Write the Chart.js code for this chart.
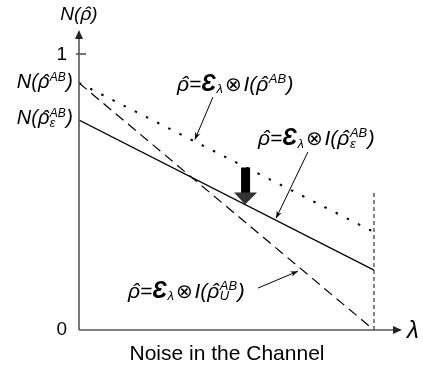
<!DOCTYPE html>
<html>
<head>
<meta charset="utf-8">
<script src="https://cdn.jsdelivr.net/npm/chart.js@4/dist/chart.umd.min.js"></script>
<style>
  html, body { margin: 0; padding: 0; background: #fff; }
  #wrap { width: 423px; height: 368px; }
</style>
</head>
<body>
<div id="wrap"><canvas id="chart" width="423" height="368"></canvas></div>
<script>
// noise level (x) and negativity N for each state
const lambda = [0, 1];
const nRhoAB = [0.895, 0.355];
const nRhoEps = [0.761, 0.217];
const nRhoU = [0.895, 0];
const cutoffX = [1, 1];
const cutoffY = [0, 0.5];
const yTicks = [0, 1];

const FONT = "'Liberation Sans', Arial, sans-serif";
const RHO = '\u03C1';

function pts(xs, ys) {
    return xs.map((x, i) => ({ x: x, y: ys[i] }));
}

function lerpAt(ys, x) {
    return ys[0] + (ys[1] - ys[0]) * (x - lambda[0]) / (lambda[1] - lambda[0]);
}

function runFont(o, size) {
    return (o.italic === false ? '' : 'italic ') + (o.bold ? 'bold ' : '') + size + 'px ' + FONT;
}

// rich text: runs of [text, opts]; opts.sup / opts.sub draw small stacked scripts, opts.hat puts a circumflex on top
function richWidth(ctx, runs, size) {
    let w = 0;
    runs.forEach(r => {
        const o = r[1] || {};
        if (o.sup || o.sub) {
            ctx.font = 'italic ' + Math.round(size * 0.6) + 'px ' + FONT;
            w += Math.max(ctx.measureText(o.sup || '').width, ctx.measureText(o.sub || '').width) + 1;
        } else {
            ctx.font = runFont(o, o.size || size);
            w += ctx.measureText(r[0]).width + 2 * (o.pad || 0);
        }
    });
    return w;
}

function drawRich(ctx, x, y, runs, size, align) {
    let w = richWidth(ctx, runs, size);
    let cx = align === 'right' ? x - w : (align === 'center' ? x - w / 2 : x);
    ctx.textBaseline = 'alphabetic';
    ctx.textAlign = 'left';
    ctx.fillStyle = '#000';
    const base = y + size * 0.36;
    runs.forEach(r => {
        const o = r[1] || {};
        if (o.sup || o.sub) {
            const s = Math.round(size * 0.6);
            ctx.font = 'italic ' + s + 'px ' + FONT;
            let ww = 0;
            if (o.sup) {
                ctx.fillText(o.sup, cx + 0.5, base - size * 0.36);
                ww = Math.max(ww, ctx.measureText(o.sup).width);
            }
            if (o.sub) {
                ctx.fillText(o.sub, cx + 0.5, base + size * 0.14);
                ww = Math.max(ww, ctx.measureText(o.sub).width);
            }
            cx += ww + 1;
        } else {
            const s = o.size || size;
            ctx.font = runFont(o, s);
            cx += o.pad || 0;
            ctx.fillText(r[0], cx, base);
            const tw = ctx.measureText(r[0]).width;
            if (o.hat) {
                ctx.textAlign = 'center';
                ctx.fillText('\u02C6', cx + tw / 2 + s * 0.1, base + s * 0.02);
                ctx.textAlign = 'left';
            }
            cx += tw + (o.pad || 0);
        }
    });
}

function stateLabel(inner) {
    return [
        [RHO, { hat: true }], ['='], ['\u0190', { bold: true, size: 23 }], ['', { sub: '\u03BB' }],
        ['\u2297', { italic: false, size: 20, pad: 1.5 }], ['I('], [RHO, { hat: true }], ['', inner], [')']
    ];
}

function thinArrow(ctx, x1, y1, x2, y2) {
    const a = Math.atan2(y2 - y1, x2 - x1);
    ctx.strokeStyle = '#000';
    ctx.fillStyle = '#000';
    ctx.lineWidth = 1;
    ctx.beginPath();
    ctx.moveTo(x1, y1);
    ctx.lineTo(x2, y2);
    ctx.stroke();
    ctx.beginPath();
    ctx.moveTo(x2, y2);
    ctx.lineTo(x2 - 8 * Math.cos(a - 0.35), y2 - 8 * Math.sin(a - 0.35));
    ctx.lineTo(x2 - 5 * Math.cos(a), y2 - 5 * Math.sin(a));
    ctx.lineTo(x2 - 8 * Math.cos(a + 0.35), y2 - 8 * Math.sin(a + 0.35));
    ctx.closePath();
    ctx.fill();
}

const decor = {
    id: 'decor',
    afterDraw(chart) {
        const ctx = chart.ctx;
        const xs = chart.scales.x, ys = chart.scales.y;
        const px = v => xs.getPixelForValue(v);
        const py = v => ys.getPixelForValue(v);
        const a = chart.chartArea;
        ctx.save();

        // axes with arrow heads
        ctx.strokeStyle = '#555';
        ctx.fillStyle = '#222';
        ctx.lineWidth = 1.6;
        ctx.beginPath();
        ctx.moveTo(a.left, a.bottom);
        ctx.lineTo(a.left, a.top + 6);
        ctx.moveTo(a.left, a.bottom);
        ctx.lineTo(a.right - 6, a.bottom);
        ctx.stroke();
        ctx.beginPath();
        ctx.moveTo(a.left, a.top);
        ctx.lineTo(a.left - 4, a.top + 9);
        ctx.lineTo(a.left + 4, a.top + 9);
        ctx.closePath();
        ctx.fill();
        ctx.beginPath();
        ctx.moveTo(a.right, a.bottom);
        ctx.lineTo(a.right - 9, a.bottom - 4);
        ctx.lineTo(a.right - 9, a.bottom + 4);
        ctx.closePath();
        ctx.fill();

        // tick at 1
        ctx.beginPath();
        ctx.moveTo(a.left - 3, py(yTicks[1]));
        ctx.lineTo(a.left + 7, py(yTicks[1]));
        ctx.stroke();

        ctx.fillStyle = '#000';
        ctx.font = '19px ' + FONT;
        ctx.textAlign = 'right';
        ctx.textBaseline = 'middle';
        ctx.fillText(String(yTicks[1]), a.left - 12, py(yTicks[1]) + 1);
        ctx.fillText(String(yTicks[0]), a.left - 12, py(yTicks[0]));

        // left value labels
        drawRich(ctx, a.left - 6, py(nRhoAB[0]) - 2, [['N('], [RHO, { hat: true }], ['', { sup: 'AB' }], [')']], 20, 'right');
        drawRich(ctx, a.left - 6, py(nRhoEps[0]) - 3, [['N('], [RHO, { hat: true }], ['', { sup: 'AB', sub: '\u03B5' }], [')']], 20, 'right');

        // axis titles
        drawRich(ctx, a.left, 13, [['N('], [RHO, { hat: true }], [')']], 19, 'center');
        ctx.font = 'italic 24px ' + FONT;
        ctx.textAlign = 'left';
        ctx.textBaseline = 'middle';
        ctx.fillText('\u03BB', a.right + 5, a.bottom + 1);
        ctx.font = '21px ' + FONT;
        ctx.textAlign = 'center';
        ctx.fillText('Noise in the Channel', 227, 354);

        // state labels with pointers
        drawRich(ctx, px(0.332), py(0.895), stateLabel({ sup: 'AB' }), 21, 'left');
        thinArrow(ctx, px(0.454), py(0.844), px(0.393), py(lerpAt(nRhoAB, 0.393)) - 2);

        drawRich(ctx, px(0.607), py(0.699), stateLabel({ sup: 'AB', sub: '\u03B5' }), 21, 'left');
        thinArrow(ctx, px(0.776), py(0.645), px(0.668), py(lerpAt(nRhoEps, 0.668)) - 2);

        drawRich(ctx, px(0.166), py(0.145), stateLabel({ sup: 'AB', sub: 'U' }), 21, 'left');
        thinArrow(ctx, px(0.607), py(0.152), px(0.742), py(0.213));

        // big downward arrow onto the solid line
        const bx = px(0.563), tip = py(lerpAt(nRhoEps, 0.563));
        ctx.fillStyle = '#000';
        ctx.fillRect(bx - 4, tip - 37, 9, 26);
        ctx.fillStyle = '#333';
        ctx.beginPath();
        ctx.moveTo(bx - 11, tip - 12);
        ctx.lineTo(bx + 12, tip - 12);
        ctx.lineTo(bx, tip);
        ctx.closePath();
        ctx.fill();

        ctx.restore();
    }
};

new Chart(document.getElementById('chart'), {
    type: 'line',
    data: {
        datasets: [
            { data: pts(lambda, nRhoAB), borderColor: '#000', borderWidth: 2, borderDash: [2.5, 10], borderCapStyle: 'butt' },
            { data: pts(lambda, nRhoEps), borderColor: '#000', borderWidth: 1.2 },
            { data: pts(lambda, nRhoU), borderColor: '#000', borderWidth: 1.2, borderDash: [10, 6] },
            { data: pts(cutoffX, cutoffY), borderColor: '#333', borderWidth: 1.2, borderDash: [4, 3] }
        ]
    },
    options: {
        responsive: false,
        animation: false,
        events: [],
        layout: { padding: { left: 79, right: 21, top: 30, bottom: 38 } },
        elements: { point: { radius: 0 }, line: { tension: 0 } },
        plugins: { legend: { display: false }, tooltip: { enabled: false } },
        scales: {
            x: { type: 'linear', min: 0, max: 1.095, display: false },
            y: { type: 'linear', min: 0, max: 1.087, display: false }
        }
    },
    plugins: [decor]
});
</script>
</body>
</html>
